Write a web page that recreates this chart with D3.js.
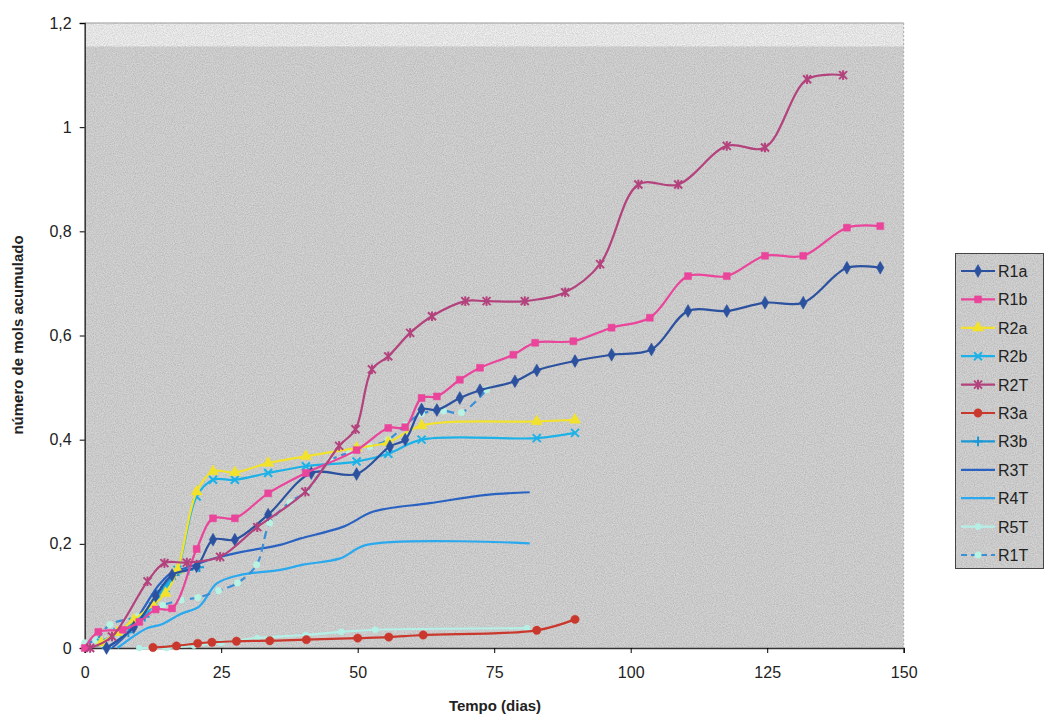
<!DOCTYPE html>
<html><head><meta charset="utf-8">
<script src="https://d3js.org/d3.v7.min.js"></script>
<style>body{margin:0;background:#fff;} svg{display:block;font-family:"Liberation Sans",Arial,sans-serif;}</style>
</head><body>
<svg id="c" width="1045" height="719"></svg>
<script>
// ---- data ----
const seriesNames = ["R1a","R1b","R2a","R2b","R2T","R3a","R3b","R3T","R4T","R5T","R1T"];
const xTicks = [0,25,50,75,100,125,150];
const yTicks = [0,0.2,0.4,0.6,0.8,1,1.2];

const R1a = [[4,0],[9,0.04],[13,0.1],[16,0.14],[20.5,0.157],[23.5,0.208],[27.5,0.208],[33.6,0.256],[41.5,0.336],[49.8,0.334],[55.9,0.387],[58.7,0.4],[61.7,0.458],[64.5,0.457],[68.7,0.48],[72.4,0.495],[78.8,0.512],[82.8,0.533],[89.8,0.551],[96.5,0.563],[103.8,0.573],[110.5,0.647],[117.6,0.647],[124.6,0.663],[131.6,0.663],[139.6,0.73],[145.7,0.73]];
const R1b = [[0,0],[2.5,0.031],[7,0.035],[10,0.05],[13,0.074],[16,0.076],[20.5,0.19],[23.5,0.249],[27.5,0.249],[33.6,0.297],[40.5,0.336],[49.8,0.38],[55.6,0.4225],[58.7,0.424],[61.7,0.48],[64.5,0.483],[68.7,0.515],[72.4,0.538],[78.5,0.563],[82.5,0.586],[89.5,0.589],[96.5,0.615],[103.5,0.634],[110.5,0.714],[117.6,0.714],[124.6,0.753],[131.6,0.753],[139.6,0.807],[145.7,0.81]];
const R2a = [[3,0.01],[6,0.03],[9,0.054],[12.5,0.083],[14.8,0.105],[17,0.15],[20.5,0.30],[23.5,0.339],[27.5,0.337],[33.6,0.355],[40.5,0.368],[49.8,0.384],[55.6,0.395],[61.7,0.427],[82.8,0.435],[89.8,0.438]];
const R2b = [[3,0.01],[6,0.03],[9,0.05],[12.5,0.08],[14.8,0.115],[17,0.15],[20.5,0.291],[23.5,0.323],[27.5,0.323],[33.6,0.336],[40.5,0.349],[49.8,0.358],[55.6,0.373],[61.7,0.40],[82.8,0.403],[89.8,0.413]];
const R2T = [[1,0],[5,0.022],[11.5,0.128],[14.6,0.163],[18.7,0.164],[24.8,0.175],[31.6,0.232],[40.4,0.30],[46.6,0.388],[49.6,0.42],[52.6,0.535],[55.6,0.56],[59.6,0.605],[63.6,0.637],[69.7,0.666],[73.6,0.666],[80.6,0.666],[88,0.683],[94.4,0.737],[101.4,0.89],[108.7,0.89],[117.6,0.964],[124.6,0.961],[132.3,1.092],[138.9,1.10]];
const R3a = [[12.5,0.001],[16.8,0.004],[20.7,0.009],[23.3,0.011],[27.8,0.013],[33.9,0.014],[40.6,0.016],[50,0.019],[55.7,0.021],[62,0.025],[82.8,0.034],[89.8,0.055]];
const R3b = [[4,0],[8,0.03],[11,0.06],[14,0.11],[16.5,0.14],[19,0.15],[21,0.155]];
const R3T = [[5,0],[8,0.03],[11,0.08],[13.5,0.12],[16,0.145],[19,0.155],[23,0.17],[29,0.185],[35.8,0.198],[39.4,0.21],[47.4,0.233],[52.9,0.262],[63.2,0.278],[73.6,0.294],[81.5,0.299]];
const R4T = [[6,0],[11.4,0.038],[14,0.045],[17.5,0.065],[21,0.08],[24.2,0.124],[28.4,0.14],[35.8,0.15],[40,0.16],[46.8,0.172],[51.6,0.198],[81.5,0.201]];
const R5T = [[10,0],[15,0],[20,0.005],[25,0.01],[31.6,0.019],[40.5,0.025],[47,0.031],[53.2,0.035],[81,0.038]];
const R1T = [[0,0.01],[2,0.015],[4.6,0.045],[9.7,0.06],[14.3,0.082],[17.7,0.092],[20.7,0.097],[24.5,0.11],[28,0.125],[31.5,0.16],[33.9,0.24],[37.6,0.28],[40.5,0.30],[45,0.36],[48.5,0.375],[52.2,0.387],[55.6,0.40],[58.7,0.428],[61.7,0.45],[65.7,0.455],[69,0.452],[73.6,0.496]];

const seriesData = [R1a,R1b,R2a,R2b,R2T,R3a,R3b,R3T,R4T,R5T,R1T];
const colors = ["#2b519f","#ea449b","#f2e22c","#1cb2e8","#b3427d","#c9372d","#1b98d6","#2a62c2","#2aa9ef","#b4f0e6","#3a8fd6"];
const markers = ["diamond","square","triangle","x","star","circle","plus",null,null,"circle","circle"];
const markerFill = ["#2b519f","#ea449b","#f2e22c","#1cb2e8","#b3427d","#c9372d","#1b98d6",null,null,"#b4f0e6","#b8f2e2"];
const markerArea = [48,48,55,0,0,55,0,0,0,30,34];
const dashed = [false,false,false,false,false,false,false,false,false,false,true];

// ---- chart ----
const svg = d3.select("#c");
const x = d3.scaleLinear().domain([0,150]).range([84.7,903.7]);
const y = d3.scaleLinear().domain([0,1.2]).range([648,23]);

const defs = svg.append("defs");
const f = defs.append("filter").attr("id","noise").attr("x",0).attr("y",0).attr("width","100%").attr("height","100%");
f.append("feTurbulence").attr("type","fractalNoise").attr("baseFrequency",0.9).attr("numOctaves",2).attr("seed",3).attr("result","t");
f.append("feColorMatrix").attr("in","t").attr("type","matrix")
 .attr("values","0 0 0 0 0  0 0 0 0 0  0 0 0 0 0  0 0 0 -1.6 1.1");
f.append("feComposite").attr("in2","SourceGraphic").attr("operator","in");

// plot background
svg.append("rect").attr("x",x(0)).attr("y",y(1.2)).attr("width",x(150)-x(0)).attr("height",y(0)-y(1.2)).attr("fill","#d3d3d3");
svg.append("rect").attr("x",x(0)).attr("y",y(1.2)).attr("width",x(150)-x(0)).attr("height",y(1.155)-y(1.2)).attr("fill","#eeeeee");
svg.append("rect").attr("x",x(0)).attr("y",y(1.2)).attr("width",x(150)-x(0)).attr("height",y(0)-y(1.2)).attr("fill","#999").attr("opacity",0.14).attr("filter","url(#noise)");
// right & top border
svg.append("line").attr("x1",x(0)).attr("x2",x(150)).attr("y1",y(1.2)).attr("y2",y(1.2)).attr("stroke","#999").attr("stroke-width",1);
svg.append("line").attr("x1",x(150)).attr("x2",x(150)).attr("y1",y(1.2)).attr("y2",y(0)).attr("stroke","#aaa").attr("stroke-width",1).attr("stroke-dasharray","2,2");

// axes
const yAxis = d3.axisLeft(y).tickValues(yTicks).tickSize(5).tickPadding(8)
  .tickFormat(d => d3.format(".1f")(d).replace(".",",").replace(/,0$/,"") );
const gy = svg.append("g").attr("transform",`translate(${x(0)},0)`).call(yAxis);
gy.selectAll("text").attr("font-size",16).attr("fill","#222");
gy.select(".domain").attr("stroke","#333").attr("stroke-width",1.5);

const xAxis = d3.axisBottom(x).tickValues(xTicks).tickSize(5).tickPadding(14).tickFormat(d3.format("d"));
const gx = svg.append("g").attr("transform",`translate(0,${y(0)})`).call(xAxis);
gx.selectAll("text").attr("font-size",16).attr("fill","#222");
gx.select(".domain").attr("stroke","#333").attr("stroke-width",1.5);

svg.append("text").attr("x",495).attr("y",711).attr("text-anchor","middle").attr("font-size",15).attr("font-weight","bold").attr("fill","#222").text("Tempo (dias)");
svg.append("text").attr("transform","translate(23,335) rotate(-90)").attr("text-anchor","middle").attr("font-size",15).attr("font-weight","bold").attr("fill","#222").text("número de mols acumulado");

// lines
const line = d3.line().x(d=>x(d[0])).y(d=>y(d[1])).curve(d3.curveCatmullRom.alpha(0.5));
const symMap = {diamond:d3.symbolDiamond,square:d3.symbolSquare,triangle:d3.symbolTriangle,circle:d3.symbolCircle};

function drawMarker(g, type, cx, cy, col, size, area){
  if(!type) return;
  if(type==="x"||type==="star"||type==="plus"){
    const r = size;
    const p = g.append("g").attr("transform",`translate(${cx},${cy})`).attr("stroke",col).attr("stroke-width",2);
    if(type!=="plus"){
      p.append("line").attr("x1",-r).attr("y1",-r).attr("x2",r).attr("y2",r);
      p.append("line").attr("x1",-r).attr("y1",r).attr("x2",r).attr("y2",-r);
    }
    if(type!=="x"){
      p.append("line").attr("x1",0).attr("y1",-r*1.2).attr("x2",0).attr("y2",r*1.2);
      if(type==="plus") p.append("line").attr("x1",-r*1.2).attr("y1",0).attr("x2",r*1.2).attr("y2",0);
    }
  } else {
    g.append("path").attr("d",d3.symbol().type(symMap[type]).size(area)())
     .attr("transform",`translate(${cx},${cy})`).attr("fill",col).attr("stroke",col).attr("stroke-width",0.5);
  }
}

const order = [7,8,9,6,10,5,3,2,0,1,4];
order.forEach(i=>{
  const g = svg.append("g");
  g.append("path").datum(seriesData[i]).attr("d",line).attr("fill","none")
   .attr("stroke",colors[i]).attr("stroke-width",2.2)
   .attr("stroke-dasharray",dashed[i]?"8,5":null);
  seriesData[i].forEach(d=>drawMarker(g, markers[i], x(d[0]), y(d[1]), markerFill[i], 4, markerArea[i]));
});

// legend
const lg = svg.append("g");
lg.append("rect").attr("x",955.5).attr("y",253.5).attr("width",88).attr("height",315).attr("fill","#d3d3d3").attr("stroke","#444").attr("stroke-width",1);
lg.append("rect").attr("x",956).attr("y",254).attr("width",87).attr("height",314).attr("fill","#999").attr("opacity",0.14).attr("filter","url(#noise)");
seriesNames.forEach((n,i)=>{
  const yy = 271 + i*28.4;
  lg.append("line").attr("x1",961).attr("x2",995).attr("y1",yy).attr("y2",yy).attr("stroke",colors[i]).attr("stroke-width",2.2)
    .attr("stroke-dasharray",dashed[i]?"6,4":null);
  drawMarker(lg, markers[i], 978, yy, markerFill[i], 4, markerArea[i]);
  lg.append("text").attr("x",998).attr("y",yy+6).attr("font-size",16).attr("fill","#222").text(n);
});
</script>
</body></html>
